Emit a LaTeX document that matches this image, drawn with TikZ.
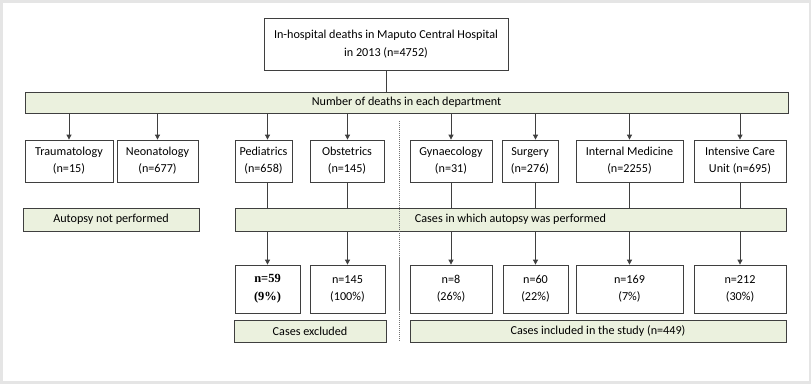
\documentclass[tikz,border=0pt]{standalone}
\usepackage{fontspec}
\setmainfont{Carlito}
\newfontfamily\seriffont{Liberation Serif}
\usepackage{xcolor}
\usetikzlibrary{arrows.meta, shadows}
\definecolor{barfill}{HTML}{EBF1DE}
\definecolor{framegray}{HTML}{E5E5E5}
\definecolor{edge}{HTML}{3F3F3F}

\begin{document}
\begin{tikzpicture}[
		x=1bp, y=-1bp,
		every node/.style={font=\fontsize{12.2}{17}\selectfont},
		box/.style={draw=edge, line width=0.8pt, fill=white, align=center, inner sep=0pt,
			drop shadow={shadow xshift=1pt, shadow yshift=-1pt, fill=black!35, opacity=1}},
		bar/.style={box, fill=barfill},
		arrow/.style={line width=0.8pt, draw=edge, -{Triangle[width=5pt, length=5pt]}},
		link/.style={line width=0.8pt, draw=edge},
		cut/.style={line width=0.8pt, draw=black!55, dash pattern=on 1.2pt off 0.8pt}
		]
		
		% Marco
		\fill[framegray] (0,0) rectangle (811,384);
		\fill[white] (3,3) rectangle (809,381);
		\useasboundingbox (0,0) rectangle (811,384);
		
		% Nodos
		\node[box, minimum width=244bp, minimum height=52bp,
			font=\fontsize{12.2}{18.5}\selectfont] (total) at (386,44)
			{In-hospital deaths in Maputo Central Hospital\\in 2013 (n=4752)};
		\node[bar, minimum width=763bp, minimum height=21bp] (depts) at (406.5,102.5)
			{Number of deaths in each department};
		
		% Departamentos
		\node[box, minimum width=88bp, minimum height=42bp] (trauma) at (69,161) {Traumatology\\(n=15)};
		\node[box, minimum width=81bp, minimum height=42bp] (neo) at (157.5,161) {Neonatology\\(n=677)};
		\node[box, minimum width=57bp, minimum height=42bp] (ped) at (263.5,161) {Pediatrics\\(n=658)};
		\node[box, minimum width=74bp, minimum height=42bp] (obst) at (347,161) {Obstetrics\\(n=145)};
		\node[box, minimum width=82bp, minimum height=42bp] (gyn) at (451,161) {Gynaecology\\(n=31)};
		\node[box, minimum width=56bp, minimum height=42bp] (surg) at (530,161) {Surgery\\(n=276)};
		\node[box, minimum width=107bp, minimum height=42bp] (intmed) at (629.5,161) {Internal Medicine\\(n=2255)};
		\node[box, minimum width=92bp, minimum height=42bp] (icu) at (740,161) {Intensive Care\\Unit (n=695)};
		
		% Autopsia
		\node[bar, minimum width=176bp, minimum height=23bp] (notdone) at (111,219.5) {Autopsy not performed};
		\node[bar, minimum width=551bp, minimum height=23bp] (done) at (510.5,219.5) {Cases in which autopsy was performed};
		
		% Resultados
		\node[box, minimum width=65bp, minimum height=48bp,
			font=\seriffont\bfseries\fontsize{12.5}{18}\selectfont] (n59) at (267.5,289) {n=59\\(9\%)};
		\node[box, minimum width=75bp, minimum height=48bp] (n145) at (347.5,289) {n=145\\(100\%)};
		\node[box, minimum width=82bp, minimum height=48bp] (n8) at (451,289) {n=8\\(26\%)};
		\node[box, minimum width=65bp, minimum height=48bp] (n60) at (535.5,289) {n=60\\(22\%)};
		\node[box, minimum width=107bp, minimum height=48bp] (n169) at (629.5,289) {n=169\\(7\%)};
		\node[box, minimum width=92bp, minimum height=48bp] (n212) at (740,289) {n=212\\(30\%)};
		
		\node[bar, minimum width=152bp, minimum height=22bp] (excluded) at (310,331) {Cases excluded};
		\node[bar, minimum width=376bp, minimum height=22bp] (included) at (598,331) {Cases included in the study (n=449)};
		
		% Flechas
		\draw[link] (total) -- (total |- depts.north);
		\draw[arrow] (depts.south -| trauma) -- (trauma);
		\draw[arrow] (depts.south -| neo) -- (neo);
		\foreach \dep/\res in {ped/n59, obst/n145, gyn/n8, surg/n60, intmed/n169, icu/n212} {
			\draw[arrow] (depts.south -| \res) -- (\res |- \dep.north);
			\draw[link] (\dep.south -| \res) -- (\res |- done.north);
			\draw[arrow] (done.south -| \res) -- (\res);
		}
		
		% Linea divisoria
		\coordinate (cuttop) at (399,121);
		\coordinate (cutbottom) at (399,342);
		\draw[cut] (cuttop) -- (cutbottom);
	\end{tikzpicture}
\end{document}
